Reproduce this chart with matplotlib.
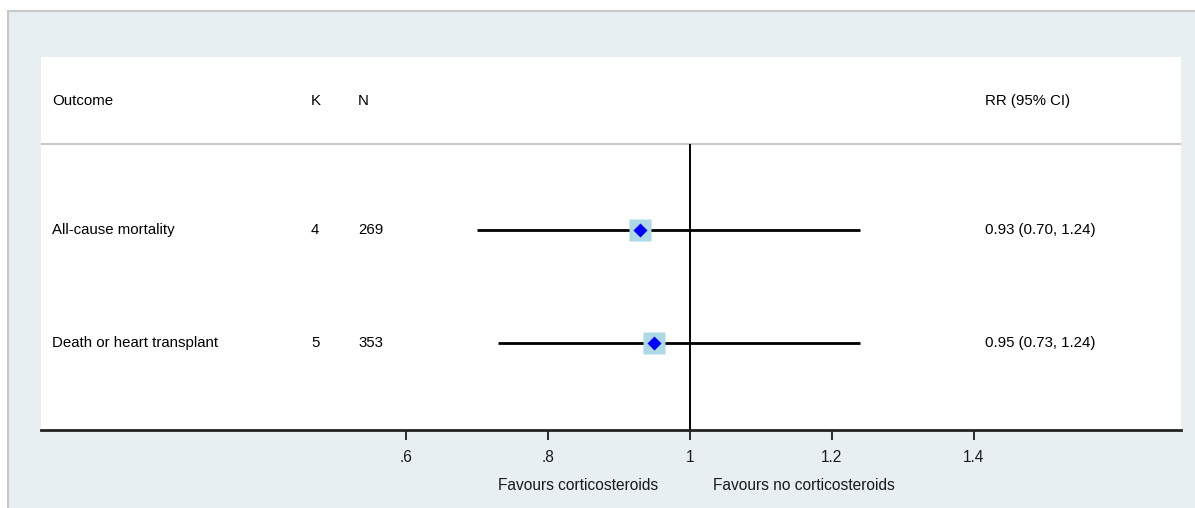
import matplotlib
matplotlib.use('Agg')
import matplotlib.pyplot as plt
from matplotlib.patches import Rectangle
from matplotlib.ticker import FixedLocator, FixedFormatter
from matplotlib.transforms import blended_transform_factory

plt.rcParams['font.family'] = ['Liberation Sans', 'DejaVu Sans']

# Meta-analysis results
outcomes = ['All-cause mortality', 'Death or heart transplant']
k_studies = [4, 5]
n_patients = [269, 353]
rr = [0.93, 0.95]
ci_low = [0.70, 0.73]
ci_high = [1.24, 1.24]

xticks = [0.6, 0.8, 1.0, 1.2, 1.4]
xtick_labels = ['.6', '.8', '1', '1.2', '1.4']

W, H = 1195, 508
fig = plt.figure(figsize=(W / 100, H / 100), dpi=100, facecolor='white')

# graph region background with thin border
bg = '#e8eff2'
fig.patches.append(Rectangle((8 / W, 0), 1 - 8 / W, 1 - 11 / H, transform=fig.transFigure,
                             facecolor=bg, edgecolor='none', zorder=-10))
fig.add_artist(plt.Line2D([8 / W, 1], [1 - 11 / H, 1 - 11 / H], transform=fig.transFigure,
                          color='#c8c8c8', lw=1.5, zorder=-9))
fig.add_artist(plt.Line2D([8 / W, 8 / W], [0, 1 - 11 / H], transform=fig.transFigure,
                          color='#c8c8c8', lw=1.5, zorder=-9))

left, right, top, bottom = 41, 1181, 57, 430
ax = fig.add_axes([left / W, 1 - bottom / H, (right - left) / W, (bottom - top) / H])
ax.set_facecolor('white')

# x scale: 142 px per 0.2 RR, 1 at x=690
x_lo = 1 - (690 - left) / 710
x_hi = 1 + (right - 690) / 710
ax.set_xlim(x_lo, x_hi)
y_bot, y_top = 1.77, -1.531
ax.set_ylim(y_bot, y_top)
y_head = -1.142
y_sep = -0.761

for s in ['top', 'left', 'right']:
    ax.spines[s].set_visible(False)
ax.spines['bottom'].set_linewidth(2)
ax.spines['bottom'].set_color('#222222')
ax.yaxis.set_visible(False)
ax.xaxis.set_major_locator(FixedLocator(xticks))
ax.xaxis.set_major_formatter(FixedFormatter(xtick_labels))
ax.tick_params(axis='x', direction='out', length=7, width=1.3, pad=7.5,
               labelsize=11.2, colors='#1a1a1a')

fs = 10.8
# header separator
ax.axhline(y_sep, color='#c8c8c8', lw=1.5)
# line of no effect
ax.vlines(1.0, y_sep, y_bot, color='black', lw=1.4, zorder=2)


def col(px):
    return (px - left) / (right - left)


btr = blended_transform_factory(ax.transAxes, ax.transData)

ax.text(col(52), y_head, 'Outcome', transform=btr, va='center', ha='left', fontsize=fs)
ax.text(col(311), y_head, 'K', transform=btr, va='center', ha='left', fontsize=fs)
ax.text(col(358), y_head, 'N', transform=btr, va='center', ha='left', fontsize=fs)
ax.text(col(985), y_head, 'RR (95% CI)', transform=btr, va='center', ha='left', fontsize=fs)

for i, name in enumerate(outcomes):
    ax.hlines(i, ci_low[i], ci_high[i], color='black', lw=2, zorder=3)
    ax.plot(rr[i], i, marker='s', ms=16.5, color='#add8e6', mec='none', zorder=4)
    ax.plot(rr[i], i, marker='D', ms=7.5, color='blue', mec='none', zorder=5)
    ax.text(col(52), i, name, transform=btr, va='center', ha='left', fontsize=fs)
    ax.text(col(311), i, str(k_studies[i]), transform=btr, va='center', ha='left', fontsize=fs)
    ax.text(col(358), i, str(n_patients[i]), transform=btr, va='center', ha='left', fontsize=fs)
    ax.text(col(985), i, f'{rr[i]:.2f} ({ci_low[i]:.2f}, {ci_high[i]:.2f})', transform=btr,
            va='center', ha='left', fontsize=fs)

# direction labels under the axis
ax.text(1 - 0.0445, -0.148, 'Favours corticosteroids', transform=ax.get_xaxis_transform(),
        ha='right', va='center', fontsize=11.2, color='#1a1a1a')
ax.text(1 + 0.032, -0.148, 'Favours no corticosteroids', transform=ax.get_xaxis_transform(),
        ha='left', va='center', fontsize=11.2, color='#1a1a1a')

fig.savefig('out.png', dpi=100, facecolor=fig.get_facecolor())
